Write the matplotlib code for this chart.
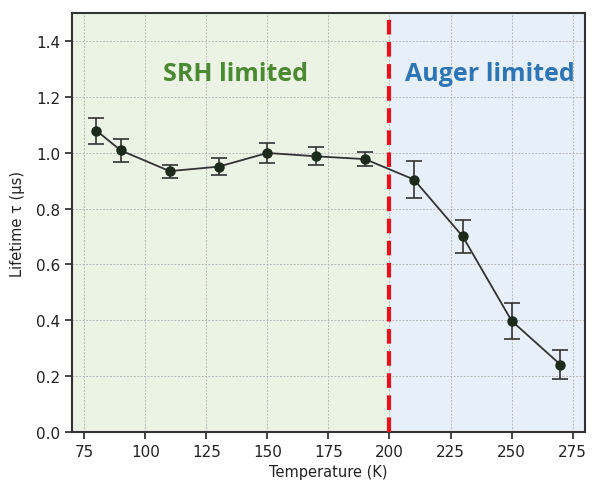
import matplotlib.pyplot as plt

temperature = [80, 90, 110, 130, 150, 170, 190, 210, 230, 250, 270]
lifetime = [1.079, 1.008, 0.934, 0.950, 0.999, 0.987, 0.977, 0.904, 0.700, 0.398, 0.241]
error = [0.047, 0.040, 0.023, 0.030, 0.037, 0.032, 0.024, 0.065, 0.060, 0.064, 0.052]

x_ticks = [75, 100, 125, 150, 175, 200, 225, 250, 275]
y_ticks = [0.0, 0.2, 0.4, 0.6, 0.8, 1.0, 1.2, 1.4]
boundary = 200

plt.rcParams['font.family'] = ['DejaVu Sans']

fig = plt.figure(figsize=(5.95, 4.81), dpi=100)
ax = fig.add_axes([0.121, 0.0998, 0.862, 0.871])

ax.axvspan(70, boundary, color='#ebf3e4', zorder=0)
ax.axvspan(boundary, 280, color='#e7f0f9', zorder=0)

ax.grid(True, color='#b8b8b8', linestyle=(0, (2, 1.5)), linewidth=0.7, zorder=1)
ax.set_axisbelow(True)

ax.errorbar(temperature, lifetime, yerr=error, color='#333333', lw=1.3,
            marker='o', markersize=6.5, markerfacecolor='#1c2a1c',
            markeredgecolor='#1c2a1c', ecolor='#333333', elinewidth=1.2,
            capsize=6, capthick=1.2, zorder=3)

ax.axvline(boundary, color='#e8101a', lw=3, linestyle=(0, (3.5, 1.8)), zorder=4)

ax.text(137, 1.285, 'SRH limited', color='#4b8a33', fontsize=18,
        fontweight='bold', ha='center', va='center', family='Open Sans')
ax.text(241, 1.285, 'Auger limited', color='#2e75b6', fontsize=18,
        fontweight='bold', ha='center', va='center', family='Open Sans')

ax.set_xlim(70, 280)
ax.set_ylim(0, 1.5)
ax.set_xticks(x_ticks)
ax.set_yticks(y_ticks)
ax.set_yticklabels([f'{v:.1f}' for v in y_ticks])
ax.tick_params(labelsize=11, colors='#222222', length=5, width=1.2)

for s in ax.spines.values():
    s.set_color('#333333')
    s.set_linewidth(1.5)

ax.set_xlabel('Temperature (K)', fontsize=10.5, color='#222222', labelpad=4)
ax.set_ylabel('Lifetime τ (μs)', fontsize=10.5, color='#222222', labelpad=8)

fig.savefig('out.png', dpi=100)
